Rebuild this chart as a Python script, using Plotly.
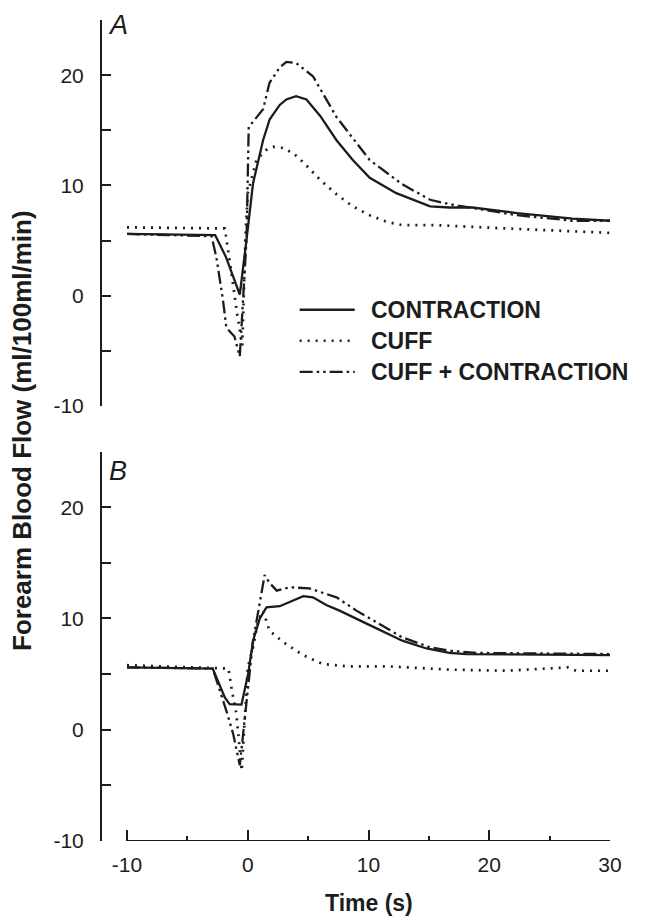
import plotly.graph_objects as go

# ---- Panel A: forearm blood flow around a single contraction / cuff release ----
a_contr_t = [-10, -2.7, -1.8, -0.66, -0.1, 0.44, 1.27, 1.82, 2.65, 3.2, 4.0, 4.86, 6.0, 7.35, 8.7,
             10.1, 12.3, 15.1, 16.7, 18.6, 22.3, 26.9, 30]
a_contr_y = [5.6, 5.5, 3.5, 0.1, 5.1, 10.2, 14.1, 16.0, 17.3, 17.8, 18.1, 17.8, 16.3, 14.1, 12.3,
             10.7, 9.3, 8.1, 8.0, 8.0, 7.5, 7.0, 6.8]

a_cuff_t = [-10, -1.9, -1.35, -0.9, -0.45, -0.2, 0.0, 0.72, 1.5, 2.1, 2.9, 3.8, 4.6, 6.0, 7.35,
            8.7, 10.1, 11.5, 12.8, 15.6, 21.4, 30]
a_cuff_y = [6.2, 6.1, 2.1, -1.5, -4.5, 5.1, 9.3, 12.3, 13.2, 13.5, 13.4, 12.9, 12.1, 10.5, 9.2,
            8.1, 7.3, 6.7, 6.4, 6.4, 6.1, 5.7]

a_cc_t = [-10, -3.0, -2.6, -2.05, -1.77, -1.1, -0.66, -0.1, 0.08, 1.27, 1.8, 2.65, 3.2, 4.0, 5.4,
          7.35, 10.1, 12.8, 15.1, 16.7, 22.3, 26.9, 30]
a_cc_y = [5.6, 5.4, 3.5, -0.4, -2.9, -3.7, -5.5, 5.1, 15.3, 16.9, 19.3, 20.7, 21.2, 21.1, 19.9,
          16.2, 12.3, 10.1, 8.7, 8.3, 7.3, 6.8, 6.8]

# ---- Panel B ----
b_contr_t = [-10, -2.9, -1.9, -1.5, -0.52, 0.03, 0.44, 1.0, 1.55, 2.65, 4.6, 5.4, 6.5, 7.6, 10.1,
             12.8, 14.8, 16.7, 18.1, 30]
b_contr_y = [5.6, 5.5, 2.9, 2.3, 2.25, 5.0, 8.0, 10.0, 11.0, 11.1, 12.0, 11.9, 11.2, 10.7, 9.4,
             8.0, 7.3, 6.9, 6.8, 6.7]

b_cuff_t = [-10, -1.6, -1.35, -0.94, -0.5, 0.0, 0.44, 0.86, 1.27, 1.8, 2.9, 4.6, 6.2, 8.2, 11.5,
            16.7, 21.4, 26.5, 27.2, 30]
b_cuff_y = [5.8, 5.5, 3.8, 1.4, -3.7, 5.6, 7.4, 9.8, 10.7, 8.9, 7.9, 6.7, 5.9, 5.7, 5.7,
            5.4, 5.3, 5.6, 5.3, 5.3]

b_cc_t = [-10, -2.9, -1.77, -1.2, -0.66, -0.1, 0.44, 1.4, 1.8, 2.4, 3.5, 5.1, 7.35, 9.0, 10.9,
          12.8, 15.1, 16.7, 19.0, 30]
b_cc_y = [5.6, 5.5, 1.7, -0.4, -3.2, 2.6, 8.0, 13.9, 13.2, 12.5, 12.8, 12.7, 11.9, 10.7, 9.5,
          8.3, 7.4, 7.1, 6.9, 6.8]

series_names = ["CONTRACTION", "CUFF", "CUFF + CONTRACTION"]
y_ticks = [-10, -5, 0, 5, 10, 15, 20]
y_ticktext = ["-10", "", "0", "", "10", "", "20"]
x_ticks = [-10, 0, 10, 20, 30]
x_ticktext = ["-10", "0", "10", "20", "30"]

INK = "#1c1c1c"
FONT = "Liberation Sans, Arial, sans-serif"
styles = [
    dict(color=INK, width=2.3, dash="solid"),
    dict(color=INK, width=2.7, dash="2px,6px"),
    dict(color=INK, width=2.3, dash="13px,4px,2.5px,4px,2.5px,4px"),
]

fig = go.Figure()
panel_a = [(a_contr_t, a_contr_y), (a_cuff_t, a_cuff_y), (a_cc_t, a_cc_y)]
panel_b = [(b_contr_t, b_contr_y), (b_cuff_t, b_cuff_y), (b_cc_t, b_cc_y)]
for (t, y), name, st in zip(panel_a, series_names, styles):
    fig.add_trace(go.Scatter(x=t, y=y, mode="lines", name=name, line=st,
                             xaxis="x", yaxis="y", showlegend=False))
for (t, y), name, st in zip(panel_b, series_names, styles):
    fig.add_trace(go.Scatter(x=t, y=y, mode="lines", name=name, line=st,
                             xaxis="x2", yaxis="y2", showlegend=False))

x_range = [-12.07, 30]
y_range = [-10, 25]
yax = dict(range=y_range, showline=True, linecolor=INK, linewidth=2,
           tickmode="array", tickvals=y_ticks, ticktext=y_ticktext,
           ticks="inside", ticklen=9, tickwidth=1.6, tickcolor=INK,
           ticklabelstandoff=12, showgrid=False, zeroline=False,
           tickfont=dict(family=FONT, size=21, color=INK))

fig.update_layout(
    width=648, height=921,
    margin=dict(l=102, r=38, t=20, b=80),
    plot_bgcolor="white", paper_bgcolor="white",
    xaxis=dict(range=x_range, domain=[0, 1], anchor="y", visible=False),
    yaxis=dict(domain=[0.5298, 1], anchor="x", **yax),
    xaxis2=dict(range=x_range, domain=[0, 1], anchor="y2", showline=False,
                tickmode="array", tickvals=x_ticks, ticktext=x_ticktext,
                ticks="inside", ticklen=11,
                tickwidth=1.6, tickcolor=INK, ticklabelstandoff=9,
                minor=dict(tickvals=[-5, 5, 15, 25], ticks="inside", ticklen=5,
                           tickwidth=1.6, tickcolor=INK),
                showgrid=False, zeroline=False,
                tickfont=dict(family=FONT, size=21, color=INK)),
    yaxis2=dict(domain=[0, 0.4744], anchor="x2", **yax),
)

# bounded x-axis spine of panel B (from -10 s to 30 s)
fig.add_shape(type="line", xref="x2", yref="y2", x0=-10, x1=30, y0=-10, y1=-10,
              line=dict(color=INK, width=2))

# key for the three conditions inside panel A
legend_rows = [-1.27, -4.08, -6.9]
for name, st, ly in zip(series_names, styles, legend_rows):
    fig.add_shape(type="line", xref="x", yref="y", x0=4.3, x1=8.86, y0=ly, y1=ly, line=st)
    fig.add_annotation(xref="x", yref="y", x=10.0, y=ly, text="<b>%s</b>" % name,
                       showarrow=False, xanchor="left", yanchor="middle",
                       font=dict(family=FONT, size=23, color=INK))

# panel letters
for letter, py in [("A", 0.9939), ("B", 0.4507)]:
    fig.add_annotation(xref="paper", yref="paper", x=0.0315, y=py, text="<i>%s</i>" % letter,
                       showarrow=False, xanchor="center", yanchor="middle",
                       font=dict(family=FONT, size=27, color=INK))

fig.add_annotation(xref="paper", yref="paper", x=-0.1575, y=0.5006,
                   text="<b>Forearm Blood Flow (ml/100ml/min)</b>", textangle=-90,
                   showarrow=False, xanchor="center", yanchor="middle",
                   font=dict(family=FONT, size=26, color=INK))
fig.add_annotation(xref="x2", yref="paper", x=10, y=-0.0755, text="<b>Time (s)</b>",
                   showarrow=False, xanchor="center", yanchor="middle",
                   font=dict(family=FONT, size=23, color=INK))

fig.write_html("out.html")
